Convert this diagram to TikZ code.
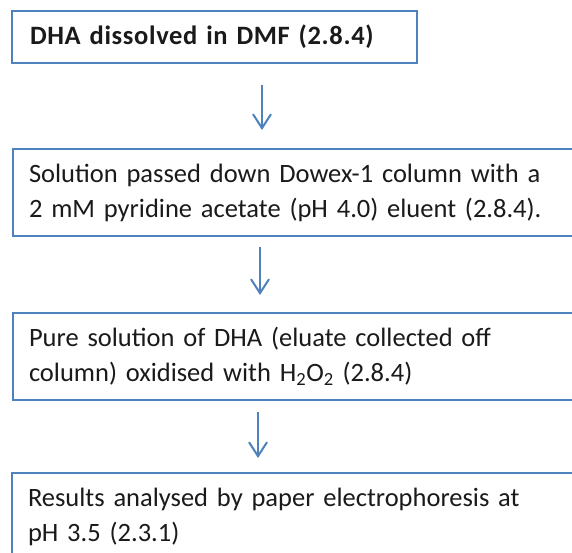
\documentclass[tikz,border=0pt]{standalone}
\usepackage{fontspec}
\setmainfont{Carlito}
\usetikzlibrary{arrows.meta}
\definecolor{boxblue}{HTML}{4F81BD}
\definecolor{txt}{HTML}{1A1A1A}
\begin{document}
\begin{tikzpicture}[x=1pt,y=-1pt,
  stepbox/.style={draw=boxblue, line width=2pt, anchor=north west, align=left,
    text=txt, font=\fontsize{26.5}{35}\selectfont, inner xsep=16pt, inner ysep=0pt},
  arr/.style={draw=boxblue, line width=2.5pt, -{Straight Barb[length=14pt,width=18pt,line width=2pt]}}]
\useasboundingbox (0,0) rectangle (572,552);
\clip (0,0) rectangle (572,552);
\fill[white] (0,0) rectangle (572,552);
\node[stepbox, font=\fontsize{26.5}{35}\selectfont\bfseries\addfontfeature{LetterSpace=2.5}, text width=369pt, minimum height=52pt, inner xsep=18pt] (b1) at (11,10) {DHA dissolved in DMF (2.8.4)};
\node[stepbox, text width=560pt, minimum height=87pt] (b2) at (12,148) {Solution passed down Dowex-1 column with a\\2 mM pyridine acetate (pH 4.0) eluent (2.8.4).};
\node[stepbox, text width=560pt, minimum height=87pt] (b3) at (12,312) {Pure solution of DHA (eluate collected off\\column) oxidised with H\textsubscript{2}O\textsubscript{2} (2.8.4)};
\node[stepbox, text width=560pt, minimum height=87pt] (b4) at (11,472) {Results analysed by paper electrophoresis at\\pH 3.5 (2.3.1)};
\draw[arr, shorten <=21pt, shorten >=18pt] ([xshift=251pt]b1.south west) -- ([xshift=250pt]b2.north west);
\draw[arr, shorten <=10pt, shorten >=17pt] ([xshift=248pt]b2.south west) -- ([xshift=248pt]b3.north west);
\draw[arr, shorten <=11pt, shorten >=14pt] ([xshift=246pt]b3.south west) -- ([xshift=247pt]b4.north west);
\end{tikzpicture}
\end{document}
